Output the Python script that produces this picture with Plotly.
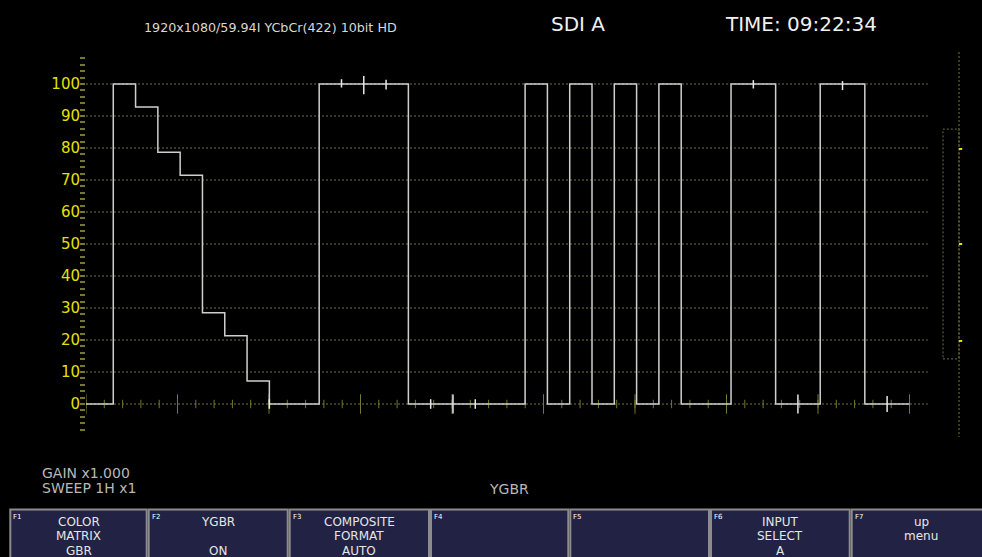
import plotly.graph_objects as go

# ---- values ---------------------------------------------------------------
# 7 colour bars, one block per channel (YGBR parade), levels in %
Y_LEVELS = [100, 92.8, 78.7, 71.5, 28.5, 21.3, 7.2]
G_LEVELS = [100, 100, 100, 100, 0, 0, 0]
B_LEVELS = [100, 0, 100, 0, 100, 0, 100]
R_LEVELS = [100, 100, 0, 0, 100, 100, 0]
PARADE = [Y_LEVELS, G_LEVELS, B_LEVELS, R_LEVELS]

# small transition spikes: block index, bar boundary, top %, bottom %
SPIKE_BLOCK = [1, 1, 1, 1, 1, 1, 3, 3, 3, 3, 0]
SPIKE_EDGE = [1, 2, 3, 5, 6, 7, 1, 3, 5, 7, 7]
SPIKE_TOP = [101.5, 102.5, 101.3, 1.5, 3.0, 1.5, 101.2, 3.0, 100.9, 2.5, 1.5]
SPIKE_BOT = [98.9, 96.8, 98.3, -1.5, -3.0, -1.5, 98.6, -3.0, 98.1, -2.5, -1.5]

Y_TICKS = [0, 10, 20, 30, 40, 50, 60, 70, 80, 90, 100]
Y_TICK_TEXT = ["0", "10", "20", "30", "40", "50", "60", "70", "80", "90", "100"]
Y_MINOR = list(range(-8, 110, 2))

METER_MARKS = [79.7, 50.0, 19.7]

HEADER = "1920x1080/59.94I YCbCr(422) 10bit HD"
INPUT_NAME = "SDI A"
CLOCK = "TIME: 09:22:34"
STATUS = ["GAIN x1.000", "SWEEP 1H x1"]
MODE = "YGBR"

BUTTON_KEYS = ["F1", "F2", "F3", "F4", "F5", "F6", "F7"]
BUTTON_TEXT = [
    ["COLOR", "MATRIX", "GBR"],
    ["YGBR", "", "ON"],
    ["COMPOSITE", "FORMAT", "AUTO"],
    ["", "", ""],
    ["", "", ""],
    ["INPUT", "SELECT", "A"],
    ["up", "menu", ""],
]

# ---- screen geometry (x in graticule divisions, y in %) -------------------
W, H = 982, 557
LEFT = 86                       # pixel where the sweep starts
DIV_PX = 91.5                   # pixels per major division
PCT_PX = 3.2                    # pixels per 1 %
ZERO_PY = 404                   # pixel row of 0 %
SWEEP_END = 9.0
GRID_END = 9.2
BAR_W = 0.2437
BLOCK_START = 0.298
BLOCK_STEP = 2.2505

WAVE = "#cfcfcf"
GRID = "#77772e"
LABEL = "#e4e000"
TEXT = "#d8d8d8"
BTN_FILL = "#212244"
BTN_EDGE = "#8c8c8c"
BTN_EDGES = [9.3, 147.7, 288.7, 430, 569.3, 710, 850.7, 992]


def px_x(px):
    return (px - LEFT) / (W - LEFT)


def px_y(py):
    return 1 - py / H


# ---- waveform polyline ----------------------------------------------------
xs, ys = [0.0], [0.0]
for k, levels in enumerate(PARADE):
    x0 = BLOCK_START + k * BLOCK_STEP
    xs.append(x0)
    ys.append(0)
    for i, lv in enumerate(levels):
        xs += [x0 + i * BAR_W, x0 + (i + 1) * BAR_W]
        ys += [lv, lv]
    xs.append(x0 + len(levels) * BAR_W)
    ys.append(0)
xs.append(SWEEP_END)
ys.append(0)

sx, sy = [], []
for b, e, t, lo in zip(SPIKE_BLOCK, SPIKE_EDGE, SPIKE_TOP, SPIKE_BOT):
    x = BLOCK_START + b * BLOCK_STEP + e * BAR_W
    sx += [x, x, None]
    sy += [lo, t, None]

fig = go.Figure()

# graticule lines
for lv in Y_TICKS:
    fig.add_trace(go.Scatter(
        x=[0, GRID_END], y=[lv, lv], mode="lines",
        line=dict(color=GRID, width=1, dash="2px,2px"),
        hoverinfo="skip", showlegend=False,
    ))

# ticks along the 0 % line
minor_x = [k * 0.2 for k in range(int(GRID_END / 0.2) + 1)]
major_x = list(range(int(SWEEP_END) + 1))
fig.add_trace(go.Scatter(
    x=minor_x, y=[0] * len(minor_x), mode="markers",
    marker=dict(symbol="line-ns", size=6, line=dict(color=GRID, width=1)),
    hoverinfo="skip", showlegend=False,
))
fig.add_trace(go.Scatter(
    x=major_x, y=[0] * len(major_x), mode="markers",
    marker=dict(symbol="line-ns", size=14, line=dict(color=GRID, width=1)),
    hoverinfo="skip", showlegend=False,
))

fig.add_trace(go.Scatter(
    x=xs, y=ys, mode="lines", line=dict(color=WAVE, width=1.5),
    hoverinfo="skip", showlegend=False,
))
fig.add_trace(go.Scatter(
    x=sx, y=sy, mode="lines", line=dict(color="#e8e8e8", width=1.5),
    hoverinfo="skip", showlegend=False,
))

# level meter on the right edge
mx = (959 - LEFT) / DIV_PX
mx0 = (943 - LEFT) / DIV_PX
shapes = [
    dict(type="line", x0=mx, x1=mx, y0=110, y1=-10.3, xref="x", yref="y",
         line=dict(color=GRID, width=1, dash="2px,2px")),
    dict(type="rect", x0=mx0, x1=mx, y0=14.1, y1=85.9, xref="x", yref="y",
         line=dict(color="#6a6a4a", width=1, dash="2px,2px")),
]
for m in METER_MARKS:
    shapes.append(dict(type="line", x0=mx, x1=mx + 0.035, y0=m, y1=m,
                       xref="x", yref="y", line=dict(color=LABEL, width=2)))

# function key bar
annotations = []
for i, key in enumerate(BUTTON_KEYS):
    a, b = BTN_EDGES[i], BTN_EDGES[i + 1]
    shapes.append(dict(type="rect", x0=px_x(a + 1), x1=px_x(b - 1),
                       y0=px_y(H + 4), y1=px_y(509.5),
                       xref="paper", yref="paper", fillcolor=BTN_FILL,
                       line=dict(color=BTN_EDGE, width=2)))
    annotations.append(dict(text=key, x=px_x(a + 2), y=px_y(510.5),
                            xref="paper", yref="paper", xanchor="left", yanchor="top",
                            showarrow=False, font=dict(size=7, color="#ffffff", family="DejaVu Sans")))
    for line, py in zip(BUTTON_TEXT[i], [521.7, 535.7, 550.5]):
        if line:
            annotations.append(dict(text=line, x=px_x((a + b) / 2), y=px_y(py),
                                    xref="paper", yref="paper", xanchor="center", yanchor="middle",
                                    showarrow=False,
                                    font=dict(size=12, color="#e6e6e6", family="DejaVu Sans")))

# header / status text
annotations += [
    dict(text=HEADER, x=px_x(270), y=px_y(27), xanchor="center", yanchor="middle",
         font=dict(size=12.7, color=TEXT, family="DejaVu Sans")),
    dict(text=INPUT_NAME, x=px_x(578), y=px_y(24), xanchor="center", yanchor="middle",
         font=dict(size=20, color="#f0f0f0", family="DejaVu Sans")),
    dict(text=CLOCK, x=px_x(801), y=px_y(24), xanchor="center", yanchor="middle",
         font=dict(size=20, color="#f0f0f0", family="DejaVu Sans")),
    dict(text=STATUS[0], x=px_x(40), y=px_y(472.5), xanchor="left", yanchor="middle",
         font=dict(size=14, color="#b8b8b8", family="DejaVu Sans")),
    dict(text=STATUS[1], x=px_x(40), y=px_y(488), xanchor="left", yanchor="middle",
         font=dict(size=14, color="#b8b8b8", family="DejaVu Sans")),
    dict(text=MODE, x=px_x(509), y=px_y(488.5), xanchor="center", yanchor="middle",
         font=dict(size=14, color="#b8b8b8", family="DejaVu Sans")),
]
for a in annotations[-6:]:
    a.update(xref="paper", yref="paper", showarrow=False)

fig.update_layout(
    width=W, height=H,
    margin=dict(l=LEFT, r=0, t=0, b=0, pad=0),
    paper_bgcolor="#000000", plot_bgcolor="#000000",
    shapes=shapes, annotations=annotations,
    xaxis=dict(range=[0, (W - LEFT) / DIV_PX], visible=False, fixedrange=True),
    yaxis=dict(
        range=[(ZERO_PY - H) / PCT_PX, ZERO_PY / PCT_PX],
        tickmode="array", tickvals=Y_TICKS, ticktext=Y_TICK_TEXT,
        ticks="outside", ticklen=5, tickwidth=2, tickcolor=GRID,
        ticklabelstandoff=-3,
        tickfont=dict(size=15, color=LABEL, family="DejaVu Sans"),
        minor=dict(tickmode="array", tickvals=Y_MINOR, ticks="outside",
                   ticklen=5, tickwidth=2, tickcolor=GRID),
        showgrid=False, zeroline=False, showline=False,
        automargin=False, fixedrange=True,
    ),
)

# the page body has a default 8px margin; drop it so the screen fills the window
fig.write_html(
    "out.html",
    config={"displayModeBar": False},
    post_script="document.body.style.margin='0';document.body.style.background='#000';",
)
